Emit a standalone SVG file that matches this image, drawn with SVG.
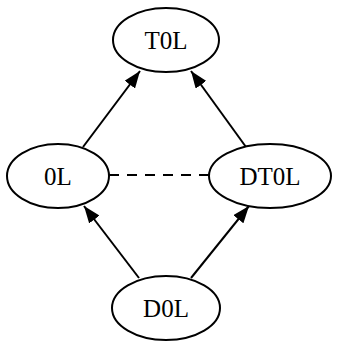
<svg xmlns="http://www.w3.org/2000/svg" width="338" height="342" viewBox="0 0 338 342">
<defs>
<marker id="ah" markerWidth="17" markerHeight="13" refX="17" refY="6.5" orient="auto" markerUnits="userSpaceOnUse" viewBox="0 0 17 13">
<path d="M0,0 L17,6.5 L0,13 Z" fill="#000"/>
</marker>
</defs>
<style>
.n ellipse{fill:#fff;stroke:#000;stroke-width:2}
.n text{font-family:"Liberation Serif",serif;font-size:25px;text-anchor:middle;fill:#000}
.e line{stroke:#000;stroke-width:2}
</style>
<rect width="338" height="342" fill="#fff"/>
<g id="edges" class="e">
<line x1="83" y1="147" x2="140" y2="71" marker-end="url(#ah)"/>
<line x1="246" y1="147" x2="191" y2="71" marker-end="url(#ah)"/>
<line x1="139" y1="278" x2="84" y2="206" marker-end="url(#ah)"/>
<line x1="191" y1="278" x2="249" y2="206" marker-end="url(#ah)"/>
<line x1="109" y1="175" x2="209" y2="175" stroke-dasharray="10,8"/>
</g>
<g id="T0L" class="n"><ellipse cx="166" cy="40" rx="53" ry="32"/><text x="166" y="49">T0L</text></g>
<g id="0L" class="n"><ellipse cx="58" cy="176" rx="51" ry="32"/><text x="58" y="185">0L</text></g>
<g id="DT0L" class="n"><ellipse cx="270" cy="176" rx="61" ry="32"/><text x="270" y="185">DT0L</text></g>
<g id="D0L" class="n"><ellipse cx="166" cy="308" rx="54" ry="32"/><text x="166" y="317">D0L</text></g>
</svg>
